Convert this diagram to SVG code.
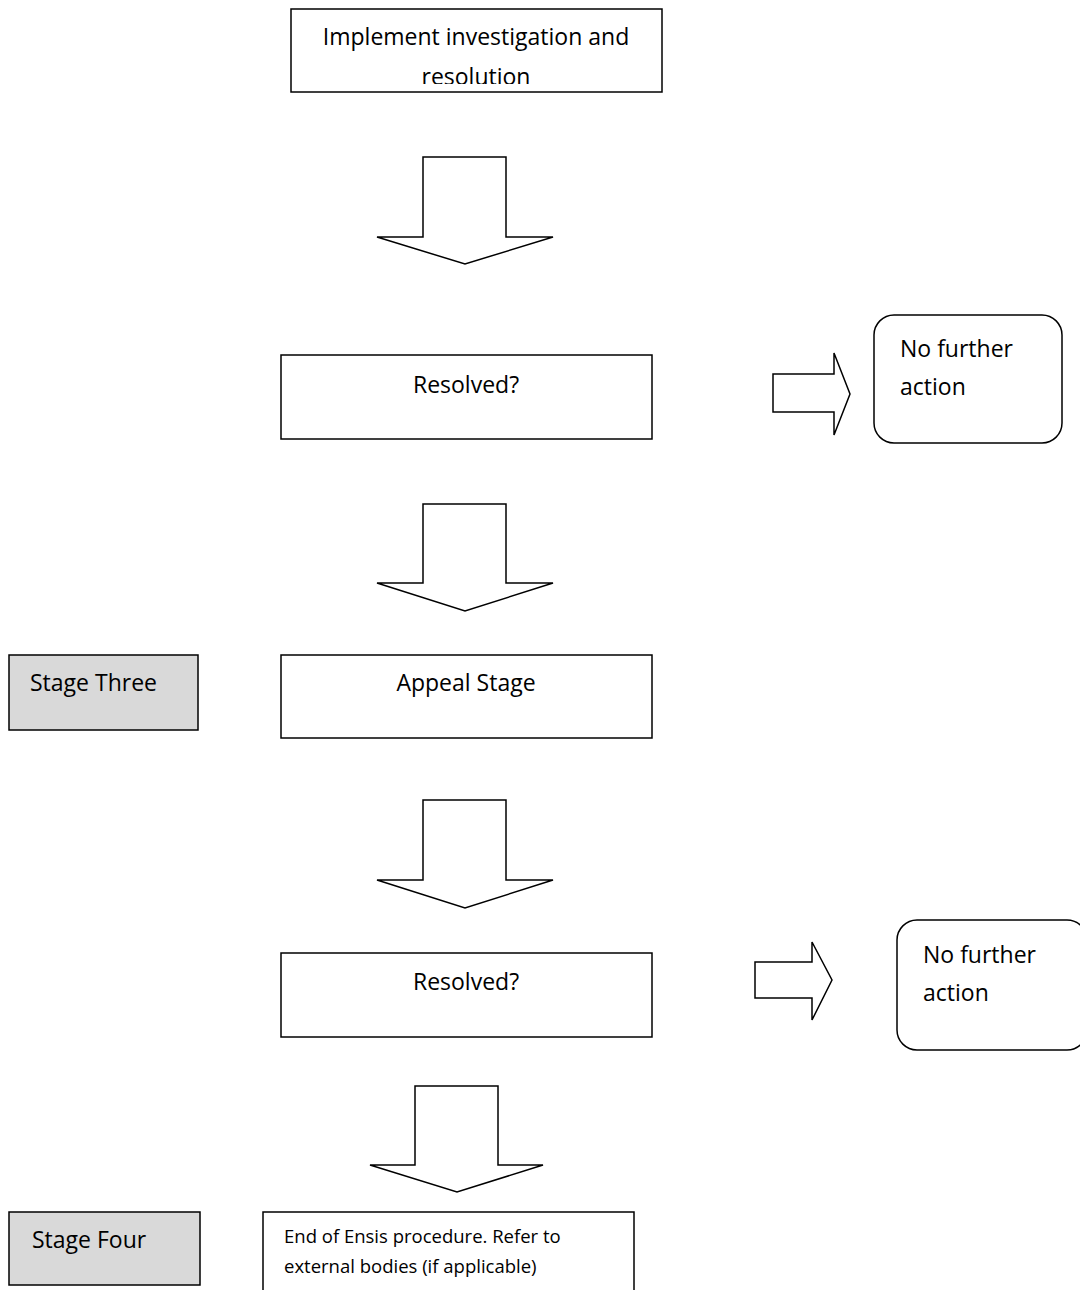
<svg xmlns="http://www.w3.org/2000/svg" width="1080" height="1290" viewBox="0 0 1080 1290">
<style>
.box{fill:#fff;stroke:#000;stroke-width:1.5}
.stage{fill:#d9d9d9;stroke:#000;stroke-width:1.5}
.arr{fill:#fff;stroke:#000;stroke-width:1.5;stroke-linejoin:miter}
text{font-family:"Open Sans","Noto Sans","Liberation Sans",sans-serif;font-size:23px;fill:#000}
.c{text-anchor:middle}
.s{font-size:18.5px}
</style>
<defs>
<clipPath id="clip1"><rect x="291" y="9" width="371" height="75"/></clipPath>
</defs>
<g id="n-implement">
<rect class="box" x="291" y="9" width="371" height="83"/>
<g clip-path="url(#clip1)">
<text class="c" x="476" y="45">Implement investigation and</text>
<text class="c" x="476" y="85">resolution</text>
</g>
</g>
<g id="n-resolved1">
<rect class="box" x="281" y="355" width="371" height="84"/>
<text class="c" x="466" y="393">Resolved?</text>
</g>
<g id="n-nfa1">
<rect class="box" x="874" y="315" width="188" height="128" rx="20"/>
<text x="900" y="357">No further</text>
<text x="900" y="395">action</text>
</g>
<g id="n-stage3">
<rect class="stage" x="9" y="655" width="189" height="75"/>
<text x="30" y="691">Stage Three</text>
</g>
<g id="n-appeal">
<rect class="box" x="281" y="655" width="371" height="83"/>
<text class="c" x="466" y="691">Appeal Stage</text>
</g>
<g id="n-resolved2">
<rect class="box" x="281" y="953" width="371" height="84"/>
<text class="c" x="466" y="990">Resolved?</text>
</g>
<g id="n-nfa2">
<rect class="box" x="897" y="920" width="190" height="130" rx="20"/>
<text x="923" y="963">No further</text>
<text x="923" y="1001">action</text>
</g>
<g id="n-stage4">
<rect class="stage" x="9" y="1212" width="191" height="73"/>
<text x="32" y="1248">Stage Four</text>
</g>
<g id="n-end">
<rect class="box" x="263" y="1212" width="371" height="90"/>
<text class="s" x="284" y="1243">End of Ensis procedure. Refer to</text>
<text class="s" x="284" y="1273">external bodies (if applicable)</text>
</g>
<g id="connectors">
<polygon class="arr" points="423,157 506,157 506,237 553,237 465,264 377,237 423,237"/>
<polygon class="arr" points="423,504 506,504 506,583 553,583 465,611 377,583 423,583"/>
<polygon class="arr" points="423,800 506,800 506,880 553,880 465,908 377,880 423,880"/>
<polygon class="arr" points="415,1086 498,1086 498,1165 543,1165 457,1192 370,1165 415,1165"/>
<polygon class="arr" points="773,374 834,374 834,353 850,394 834,435 834,412 773,412"/>
<polygon class="arr" points="755,962 812,962 812,942 832,980 812,1020 812,998 755,998"/>
</g>
</svg>
